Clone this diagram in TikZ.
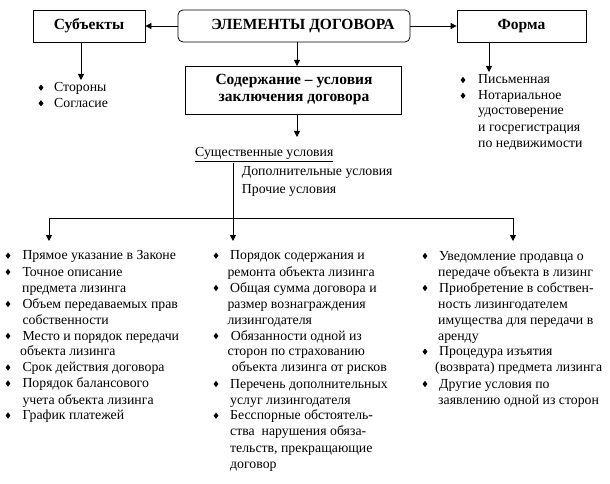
\documentclass[tikz,border=0pt]{standalone}
\usepackage{fontspec}
\setmainfont{Liberation Serif}
\usetikzlibrary{arrows.meta,shapes.geometric}
\newcommand\tline[4]{\node[txt] (#1) at (#2,#3) {#4};}
\newcommand\bulat[3]{\node[bul] (#1) at (#2,#3) {};}
\begin{document}
\begin{tikzpicture}[x=1pt,y=-1pt,
  txt/.style={anchor=base west,inner sep=0pt,font=\fontsize{13.8}{16}\selectfont},
  bul/.style={diamond,fill=black,inner sep=0pt,minimum width=5pt,minimum height=6.5pt},
  box/.style={draw,line width=0.8pt,inner sep=0pt},
  btxt/.style={inner sep=0pt,font=\fontsize{15.5}{18}\selectfont\bfseries},
  arr/.style={line width=0.8pt,-{Triangle[width=6pt,length=6pt]}},
  ln/.style={line width=0.8pt}]
\useasboundingbox (0,0) rectangle (610,484);
% top boxes
\node[box,minimum width=112pt,minimum height=32pt] (subj) at (89,26) {};
\node[btxt] (subjt) at (89,26) {Субъекты};
\node[box,rounded corners=5pt,minimum width=232pt,minimum height=32pt] (elem) at (294,26) {};
\node[btxt] (elemt) at (303,26) {ЭЛЕМЕНТЫ ДОГОВОРА};
\node[box,minimum width=129pt,minimum height=32pt] (form) at (521.5,26) {};
\node[btxt] (formt) at (521.5,26) {Форма};
\node[box,minimum width=216pt,minimum height=48pt] (cont) at (293,90) {};
\node[btxt] (cont1) at (294,81) {Содержание – условия};
\node[btxt] (cont2) at (294,99) {заключения договора};
% coordinates
\coordinate (sa) at (81,42); \coordinate (sb) at (81,80);
\coordinate (fa) at (489,42); \coordinate (fb) at (489,72);
\coordinate (ea) at (297,42); \coordinate (eb) at (297,66);
\coordinate (ca) at (297,114); \coordinate (cb) at (297,137);
\coordinate (va) at (233,163); \coordinate (vb) at (233,241);
\coordinate (hl) at (49,218); \coordinate (hr) at (513,218);
\coordinate (lb) at (49,241); \coordinate (rb) at (513,241);
\draw[arr] (elem.west) -- (subj.east);
\draw[arr] (elem.east) -- (form.west);
\draw[arr] (sa) -- (sb);
\draw[arr] (fa) -- (fb);
\draw[arr] (ea) -- (eb);
\draw[arr] (ca) -- (cb);
\draw[arr] (va) -- (vb);
\draw[ln] (hl) -- (hr);
\draw[arr] (hl) -- (lb);
\draw[arr] (hr) -- (rb);
% subjects list
\bulat{s1}{41}{87.7}\tline{s1t}{54}{91.7}{Стороны}
\bulat{s2}{41}{103.3}\tline{s2t}{54}{107.3}{Согласие}
% form list
\bulat{f1}{463}{80}\tline{f1t}{478}{84}{Письменная}
\bulat{f2}{463}{95.7}\tline{f2t}{478}{99.7}{Нотариальное}
\tline{f3t}{478}{115}{удостоверение}
\tline{f4t}{478}{131.7}{и госрегистрация}
\tline{f5t}{478}{147}{по недвижимости}
% conditions
\node[txt] (sus) at (195,156.7) {\underline{Существенные условия}};
\tline{dop}{241.7}{175.7}{Дополнительные условия}
\tline{pro}{241.7}{193}{Прочие условия}
% left column
\bulat{l1}{8}{255.7}\tline{l1t}{22.3}{259.7}{Прямое указание в Законе}
\bulat{l2}{8}{272}\tline{l2t}{22.3}{276.7}{Точное описание}
\tline{l3t}{22}{292}{предмета лизинга}
\bulat{l4}{8}{304}\tline{l4t}{22.3}{308}{Объем передаваемых прав}
\tline{l5t}{22.3}{324}{собственности}
\bulat{l6}{8}{336}\tline{l6t}{22.3}{340}{Место и порядок передачи}
\tline{l7t}{20}{355.7}{объекта лизинга}
\bulat{l8}{8}{367.5}\tline{l8t}{22.3}{371.5}{Срок действия договора}
\bulat{l9}{8}{383.5}\tline{l9t}{22.3}{387.5}{Порядок балансового}
\tline{l10t}{22.3}{404}{учета объекта лизинга}
\bulat{l11}{8}{415.5}\tline{l11t}{22.3}{419.5}{График платежей}
% middle column
\bulat{m1}{216}{255.7}\tline{m1t}{230}{259.7}{Порядок содержания и}
\tline{m2t}{227.3}{276}{ремонта объекта лизинга}
\bulat{m3}{216}{288}\tline{m3t}{230}{292}{Общая сумма договора и}
\tline{m4t}{227.3}{308}{размер вознаграждения}
\tline{m5t}{227.3}{324}{лизингодателя}
\bulat{m6}{216}{336}\tline{m6t}{230.7}{340}{Обязанности одной из}
\tline{m7t}{227.3}{355.7}{сторон по страхованию}
\tline{m8t}{231.7}{371.7}{объекта лизинга от рисков}
\bulat{m9}{216}{384}\tline{m9t}{230}{388}{Перечень дополнительных}
\tline{m10t}{230}{404}{услуг лизингодателя}
\bulat{m11}{216}{415.7}\tline{m11t}{230}{419.7}{Бесспорные обстоятель-}
\tline{m12t}{230}{435.7}{ства\ \ нарушения обяза-}
\tline{m13t}{230}{452}{тельств, прекращающие}
\tline{m14t}{230}{468}{договор}
% right column
\bulat{r1}{425}{256}\tline{r1t}{439}{260}{Уведомление продавца о}
\tline{r2t}{438}{276}{передаче объекта в лизинг}
\bulat{r3}{425}{288}\tline{r3t}{439}{292}{Приобретение в собствен-}
\tline{r4t}{438}{308}{ность лизингодателем}
\tline{r5t}{438}{324}{имущества для передачи в}
\tline{r6t}{438}{340}{аренду}
\bulat{r7}{425}{351.7}\tline{r7t}{439}{355.7}{Процедура изъятия}
\tline{r8t}{435}{371.7}{(возврата) предмета лизинга}
\bulat{r9}{425}{384}\tline{r9t}{439}{388}{Другие условия по}
\tline{r10t}{438}{404}{заявлению одной из сторон}
\end{tikzpicture}
\end{document}
